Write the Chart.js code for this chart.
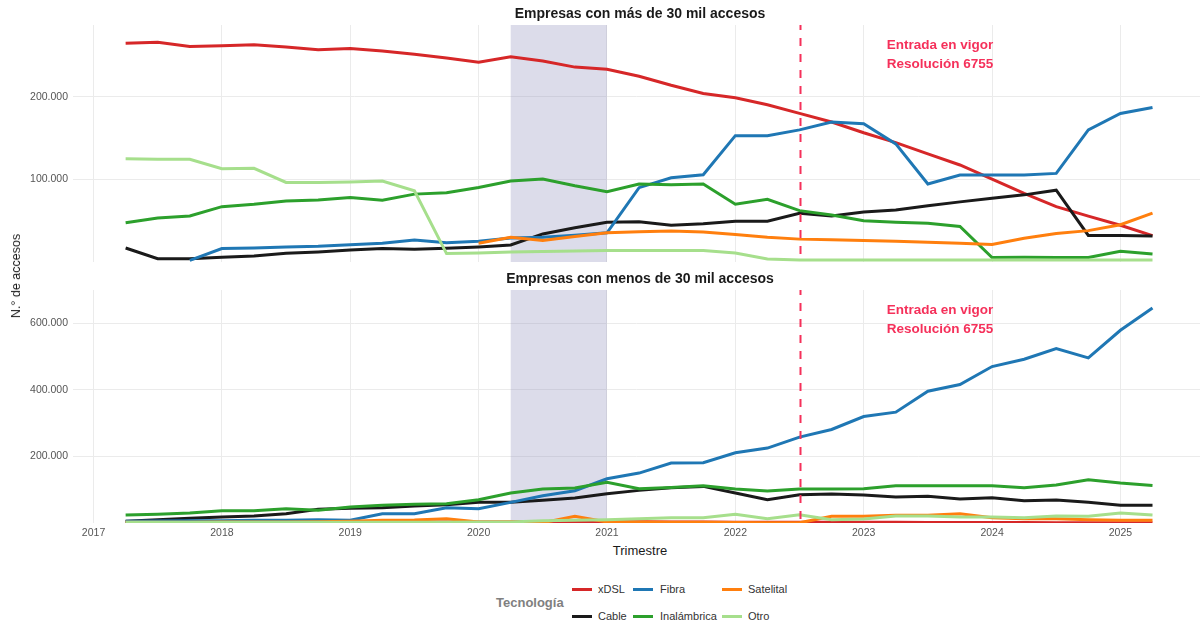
<!DOCTYPE html>
<html>
<head>
<meta charset="utf-8">
<script src="https://cdn.jsdelivr.net/npm/chart.js@4.4.1/dist/chart.umd.min.js"></script>
<style>
  body { margin: 0; background: #fff; font-family: "Liberation Sans", Arial, sans-serif; }
  #wrap { position: relative; width: 1200px; height: 622px; overflow: hidden; }
  canvas { position: absolute; left: 0; }
  .t { position: absolute; white-space: nowrap; line-height: 16px; }
  .titulo { font-weight: bold; font-size: 14px; color: #1a1a1a; transform: translateX(-50%); }
  .key { position: absolute; width: 20px; height: 3px; }
  .lab { position: absolute; font-size: 11px; color: #333; line-height: 14px; }
</style>
</head>
<body>
<div id="wrap">
  <canvas id="chartMayores" width="1200" height="264" style="top:0"></canvas>
  <canvas id="chartMenores" width="1200" height="270" style="top:270px"></canvas>

  <div class="t titulo" style="left:640px;top:5px">Empresas con más de 30 mil accesos</div>
  <div class="t titulo" style="left:640px;top:270px">Empresas con menos de 30 mil accesos</div>
  <div class="t" style="left:16px;top:276px;font-size:12.5px;color:#1a1a1a;transform:translate(-50%,-50%) rotate(-90deg)">N.° de accesos</div>
  <div class="t" style="left:640px;top:543px;font-size:13px;color:#1a1a1a;transform:translateX(-50%)">Trimestre</div>

  <div class="t" style="left:496px;top:595px;font-size:13px;font-weight:bold;color:#808080">Tecnología</div>
  <div id="leyenda"></div>
</div>

<script>
/*  datos
-------------------------------------------------------*/
var trimestres = ['2017-T1','2017-T2','2017-T3','2017-T4','2018-T1','2018-T2','2018-T3','2018-T4',
                  '2019-T1','2019-T2','2019-T3','2019-T4','2020-T1','2020-T2','2020-T3','2020-T4',
                  '2021-T1','2021-T2','2021-T3','2021-T4','2022-T1','2022-T2','2022-T3','2022-T4',
                  '2023-T1','2023-T2','2023-T3','2023-T4','2024-T1','2024-T2','2024-T3','2024-T4',
                  '2025-T1'];
var anios = [2017, 2018, 2019, 2020, 2021, 2022, 2023, 2024, 2025];

// Empresas con más de 30 mil accesos
var mayXdsl = [265000,266000,261000,262000,263000,260500,257000,258500,255500,251500,247000,242000,248500,243500,236000,233500,225000,214000,204000,199000,190500,180000,169500,156500,144500,131000,117500,100500,83000,67000,55500,44500,32000];
var mayFibra = [null,null,2000,16300,17000,18300,19000,21000,22800,26600,23300,25000,29000,30000,32500,35400,90000,102000,105700,153000,153000,160000,169500,167500,143000,94400,105400,105400,105400,107300,160000,179800,187000];
var maySatelital = [null,null,null,null,null,null,null,null,null,null,null,22800,30000,26000,31000,35400,36600,37400,36200,33400,30000,27700,26800,26000,25200,24000,22800,21200,28700,34600,38000,45200,59200];
var mayCable = [17000,4000,4000,5700,7300,10600,12200,14600,16300,15500,16700,18300,20700,34000,41500,48000,48800,44600,46300,49300,49300,59000,55700,60600,63000,68000,72800,77300,81300,87000,32200,32200,31600];
var mayInalambrica = [47600,53300,55700,67000,70000,74000,75200,78000,74900,82200,83800,90200,98000,100500,92300,85000,94400,93500,94400,70000,76000,62200,57000,50000,48000,46800,43000,5500,5800,5500,5500,13000,9600];
var mayOtro = [124900,124500,124500,113000,113500,96300,96300,97000,98000,86200,10200,11000,12200,12800,13400,13800,13800,13800,13900,11000,3700,2500,2500,2500,2500,2500,2500,2500,2500,2500,2500,2500,2500];

// Empresas con menos de 30 mil accesos
var menXdsl = [3000,3000,3000,3000,3000,3000,3000,3000,3000,3000,3000,3000,3000,4000,4000,4000,3500,3000,3000,2500,2500,2000,2000,2000,2000,1500,1500,1500,1500,1000,1000,1000,1000];
var menFibra = [5000,6000,7000,7000,8000,8000,10000,8000,28000,28000,46000,43000,62000,82000,97000,133000,150000,180000,181000,211000,225000,258000,281000,320000,333000,396000,416000,470000,492000,524000,496000,579000,646000];
var menSatelital = [2000,2000,2000,3000,3000,3000,4000,5000,8000,9000,13000,3000,3000,1000,20000,3000,3000,2000,2000,1500,1000,500,20000,20000,23000,23000,28000,16000,13000,13000,10000,8000,8000];
var menCable = [5000,10000,14000,18000,21000,28000,41000,44000,46000,51000,55000,62000,62000,68000,75000,88000,98000,106000,110000,90000,70000,85000,87000,84000,78000,80000,72000,76000,67000,69000,62000,53000,53000];
var menInalambrica = [24000,26000,30000,37000,37000,43000,38000,48000,53000,56000,58000,70000,90000,102000,105000,122000,103000,107000,112000,102000,96000,102000,102000,103000,112000,112000,112000,112000,106000,114000,130000,120000,113000];
var menOtro = [2000,2000,2000,2000,2000,2000,2000,2000,2000,2000,2500,3000,3000,7000,8000,10000,13000,16000,16000,26000,13000,25000,10000,12000,21000,21000,18000,18000,16000,21000,20000,30000,24000];

var pandemiaInicio = 2020.25, pandemiaFin = 2021.0;
var resolucion = 2022.5;
var textoResolucion = ['Entrada en vigor', 'Resolución 6755'];

/*  estilos
-------------------------------------------------------*/
var colores = { xDSL: '#d62728', Fibra: '#1f77b4', Satelital: '#ff7f0e', Cable: '#1a1a1a', 'Inalámbrica': '#2ca02c', Otro: '#a6df8c' };
var orden = { Otro: 1, Satelital: 2, 'Inalámbrica': 3, Fibra: 4, Cable: 5, xDSL: 6 };
var rojo = '#f5305a';

var xVals = trimestres.map(function (t) { return +t.slice(0, 4) + (+t.slice(6)) * 0.25; });

function puntos(arr) {
  return arr.map(function (v, i) { return { x: xVals[i], y: v }; });
}

function serie(nombre, arr) {
  return {
    label: nombre,
    data: puntos(arr),
    borderColor: colores[nombre],
    backgroundColor: colores[nombre],
    borderWidth: 3,
    lineTension: 0,
    pointRadius: 0,
    fill: false,
    order: orden[nombre]
  };
}

function miles(v) { return String(v).replace(/\B(?=(\d{3})+(?!\d))/g, '.'); }

var marcas = {
  id: 'marcas',
  beforeDatasetsDraw: function (chart) {
    var ctx = chart.ctx, a = chart.chartArea, x = chart.scales.x;
    var x0 = x.getPixelForValue(pandemiaInicio), x1 = x.getPixelForValue(pandemiaFin);
    ctx.save();
    ctx.fillStyle = 'rgba(150,150,190,0.33)';
    ctx.fillRect(x0, a.top, x1 - x0, a.bottom - a.top);
    ctx.restore();
  },
  afterDatasetsDraw: function (chart) {
    var ctx = chart.ctx, a = chart.chartArea, x = chart.scales.x;
    var xr = Math.round(x.getPixelForValue(resolucion)) + 0.5;
    ctx.save();
    ctx.strokeStyle = rojo;
    ctx.lineWidth = 2;
    ctx.setLineDash([8, 8]);
    ctx.lineDashOffset = 3;
    ctx.beginPath();
    ctx.moveTo(xr, a.top);
    ctx.lineTo(xr, a.bottom);
    ctx.stroke();
    ctx.setLineDash([]);
    ctx.fillStyle = rojo;
    ctx.font = 'bold 13.5px "Liberation Sans", Arial, sans-serif';
    ctx.textAlign = 'left';
    ctx.textBaseline = 'middle';
    var xt = x.getPixelForValue(2023.18);
    ctx.fillText(textoResolucion[0], xt, a.top + 20);
    ctx.fillText(textoResolucion[1], xt, a.top + 39);
    ctx.restore();
  }
};

function grafico(id, series, yMax, yTicks, padTop, padBottom, xAlto, xEtiquetas) {
  var nombres = ['xDSL', 'Fibra', 'Satelital', 'Cable', 'Inalámbrica', 'Otro'];
  return new Chart(document.getElementById(id), {
    type: 'line',
    data: { datasets: nombres.map(function (n, i) { return serie(n, series[i]); }) },
    plugins: [marcas],
    options: {
      responsive: false,
      animation: false,
      layout: { padding: { top: padTop, bottom: padBottom, left: 0, right: 0 } },
      plugins: { legend: { display: false }, tooltip: { enabled: false } },
      scales: {
        x: {
          type: 'linear',
          min: 2016.84,
          max: 2025.62,
          border: { display: false },
          grid: { color: '#ebebeb', lineWidth: 1, drawTicks: false },
          afterBuildTicks: function (s) { s.ticks = anios.map(function (v) { return { value: v }; }); },
          afterFit: function (s) { s.height = xAlto; s.paddingLeft = 0; s.paddingRight = 0; },
          ticks: {
            display: xEtiquetas,
            padding: 4,
            color: '#555',
            font: { family: '"Liberation Sans", Arial, sans-serif', size: 10.5 },
            callback: function (v) { return String(v); }
          }
        },
        y: {
          min: 0,
          max: yMax,
          border: { display: false },
          grid: { color: '#ebebeb', lineWidth: 1, drawTicks: false },
          afterBuildTicks: function (s) { s.ticks = yTicks.map(function (v) { return { value: v }; }); },
          afterFit: function (s) { s.width = 73; s.paddingTop = 0; s.paddingBottom = 0; },
          ticks: {
            padding: 5,
            color: '#555',
            font: { family: '"Liberation Sans", Arial, sans-serif', size: 10.5 },
            callback: function (v) { return miles(v); }
          }
        }
      }
    }
  });
}

grafico('chartMayores', [mayXdsl, mayFibra, maySatelital, mayCable, mayInalambrica, mayOtro],
        287000, [100000, 200000], 25, 2, 0, false);
grafico('chartMenores', [menXdsl, menFibra, menSatelital, menCable, menInalambrica, menOtro],
        700000, [200000, 400000, 600000], 20, 0, 17, true);

/*  leyenda
-------------------------------------------------------*/
var leyenda = [
  { n: 'xDSL', kx: 572, tx: 598, y: 589 },
  { n: 'Cable', kx: 572, tx: 598, y: 616 },
  { n: 'Fibra', kx: 633, tx: 660, y: 589 },
  { n: 'Inalámbrica', kx: 633, tx: 660, y: 616 },
  { n: 'Satelital', kx: 722, tx: 748, y: 589 },
  { n: 'Otro', kx: 722, tx: 748, y: 616 }
];
var cont = document.getElementById('leyenda');
leyenda.forEach(function (it) {
  var k = document.createElement('div');
  k.className = 'key';
  k.style.left = it.kx + 'px';
  k.style.top = (it.y - 1.5) + 'px';
  k.style.background = colores[it.n];
  cont.appendChild(k);
  var l = document.createElement('div');
  l.className = 'lab';
  l.style.left = it.tx + 'px';
  l.style.top = (it.y - 7) + 'px';
  l.textContent = it.n;
  cont.appendChild(l);
});
</script>
</body>
</html>
